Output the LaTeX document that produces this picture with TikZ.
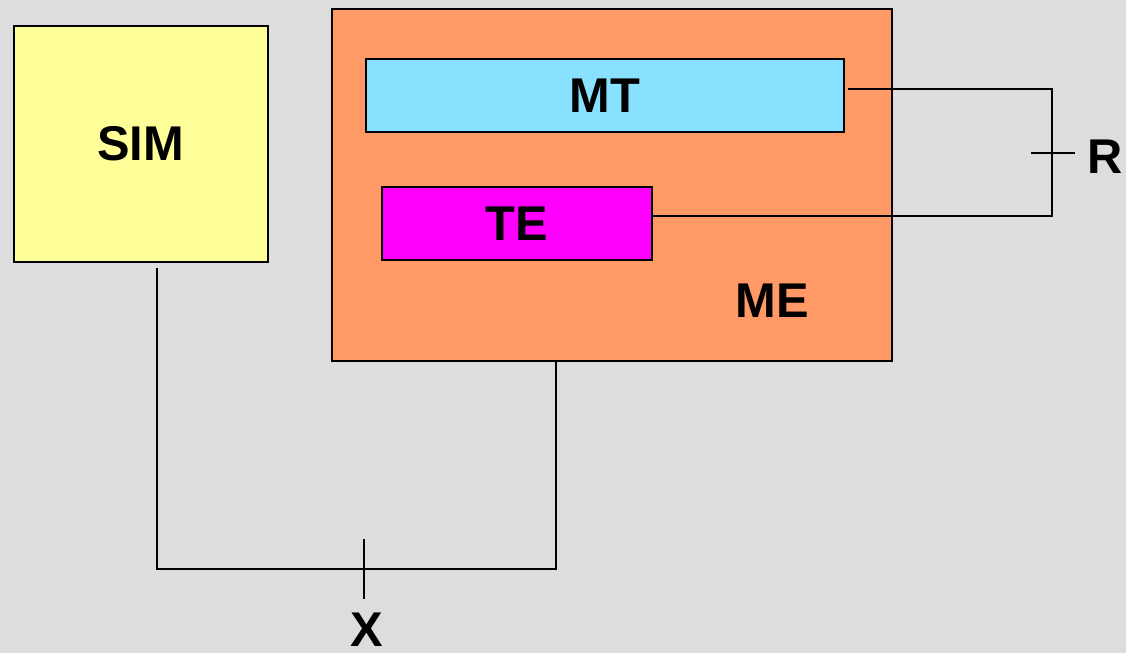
\documentclass[tikz,border=0pt]{standalone}
\usepackage{fontspec}
\setmainfont{Liberation Sans}
\usepackage{tikz}
\usetikzlibrary{positioning, calc}
\definecolor{simyellow}{HTML}{FFFF99}
\definecolor{meorange}{HTML}{FF9966}
\definecolor{mtblue}{HTML}{88E2FF}
\definecolor{temagenta}{HTML}{FF00FF}
\definecolor{bggrey}{HTML}{DDDDDD}
\begin{document}
\begin{tikzpicture}[x=0.5pt, y=-0.5pt,
    box/.style={draw, line width=1pt, inner sep=0pt, font=\fontsize{24.4}{28}\selectfont\bfseries},
    wire/.style={line width=1pt},
    lbl/.style={inner sep=0pt, anchor=base, font=\fontsize{24.4}{28}\selectfont\bfseries}]
      \useasboundingbox (0, 0) rectangle (1126, 653);
      \fill[bggrey] (0, 0) rectangle (1126, 653);

      \node[box, fill=simyellow, minimum width=127pt, minimum height=118.3pt] (sim) at (140.5, 144) {SIM};
      \node[box, fill=meorange, minimum width=280pt, minimum height=176pt] (me) at (612.3, 185) {};
      \node[box, fill=mtblue, minimum width=239pt, minimum height=36.7pt] (mt) at (604.6, 95.3) {MT};
      \node[box, fill=temagenta, minimum width=135pt, minimum height=36.7pt] (te) at (516.8, 223.3) {TE};
      \node[lbl] (melabel) at (772, 317) {ME};

      % R interface
      \coordinate (rtop) at (1052, 89);
      \coordinate (rbot) at (1052, 216);
      \draw[wire, shorten <=1.5pt] (mt.east |- rtop) -- (rtop) -- (rbot) -- (te.east |- rbot);
      \coordinate (rmid) at ($(rtop)!0.5!(rbot)$);
      \draw[wire] (rmid) +(-21, 0) -- +(23, 0);
      \node[lbl] (rlabel) at (1105, 173) {R};

      % X interface
      \coordinate (xl) at (157, 569);
      \coordinate (xr) at (556, 569);
      \draw[wire, shorten <=2.5pt] (xl |- sim.south) -- (xl) -- (xr) -- (xr |- me.south);
      \coordinate (xmid) at (364, 569);
      \draw[wire] (xmid) +(0, -30) -- +(0, 30);
      \node[lbl] (xlabel) at (367, 646) {X};
\end{tikzpicture}
\end{document}
